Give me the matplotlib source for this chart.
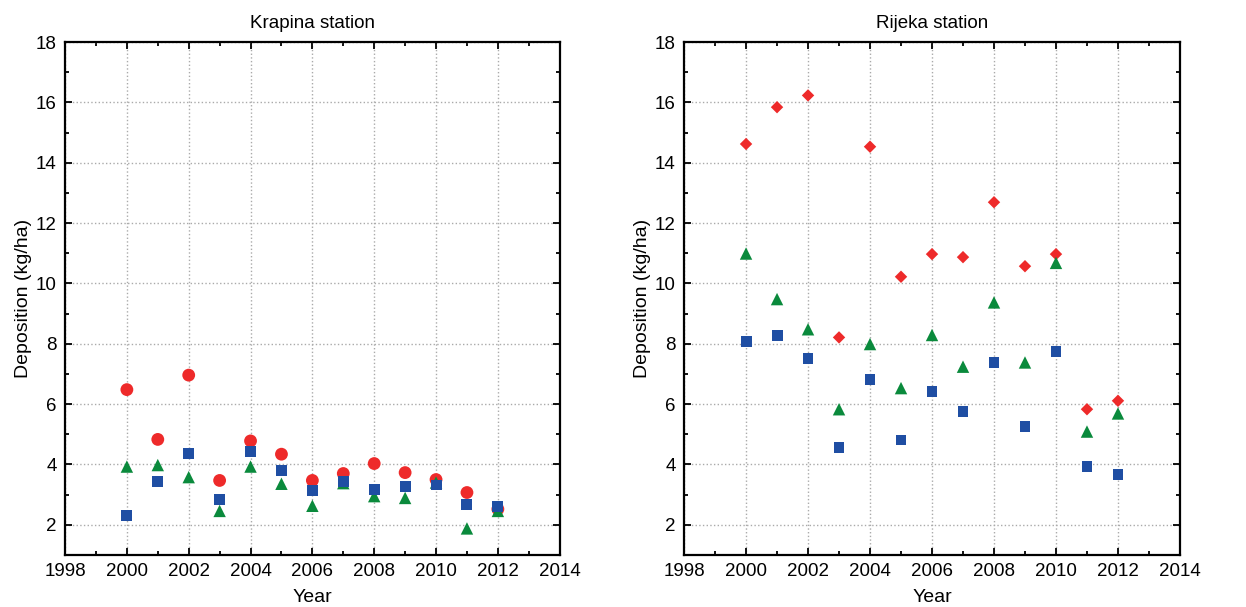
import matplotlib.pyplot as plt
from matplotlib.ticker import MultipleLocator

plt.rcParams['font.family'] = ['Liberation Sans', 'DejaVu Sans']

years = list(range(2000, 2013))

# Krapina station
krapina_red = [6.48, 4.83, 6.96, 3.47, 4.78, 4.34, 3.47, 3.70, 4.03, 3.73, 3.50, 3.07, 2.52]
krapina_blue = [2.31, 3.45, 4.35, 2.83, 4.44, 3.79, 3.14, 3.43, 3.18, 3.26, 3.32, 2.67, 2.60]
krapina_green = [3.93, 3.98, 3.58, 2.46, 3.93, 3.36, 2.63, 3.38, 2.95, 2.89, 3.40, 1.88, 2.46]

# Rijeka station
rijeka_red = [14.62, 15.84, 16.23, 8.21, 14.53, 10.22, 10.97, 10.87, 12.69, 10.57, 10.97, 5.83, 6.11]
rijeka_blue = [8.09, 8.27, 7.52, 4.55, 6.83, 4.81, 6.43, 5.77, 7.39, 5.25, 7.75, 3.93, 3.68]
rijeka_green = [10.99, 9.48, 8.48, 5.83, 7.99, 6.53, 8.29, 7.24, 9.37, 7.38, 10.68, 5.09, 5.69]

RED = '#ee2a2a'
BLUE = '#1f4ea3'
GREEN = '#0a8a3c'

fig = plt.figure(figsize=(12.46, 6.07), dpi=100)
ax1 = fig.add_axes([0.0522, 0.0857, 0.3970, 0.8451])
ax2 = fig.add_axes([0.5490, 0.0857, 0.3980, 0.8451])


def style(ax, title):
    ax.set_xlim(1998, 2014)
    ax.set_ylim(1, 18)
    ax.xaxis.set_major_locator(MultipleLocator(2))
    ax.xaxis.set_minor_locator(MultipleLocator(1))
    ax.yaxis.set_minor_locator(MultipleLocator(1))
    ax.set_yticks(range(2, 19, 2))
    ax.grid(True, which='major', linestyle=':', color='#aaaaaa', linewidth=1)
    ax.set_axisbelow(True)
    ax.tick_params(which='both', direction='in', top=True, right=True,
                   labelsize=13.5, width=1.3, color='black')
    ax.tick_params(which='major', length=5, pad=6)
    ax.tick_params(which='minor', length=3)
    for sp in ax.spines.values():
        sp.set_linewidth(1.6)
        sp.set_color('black')
    ax.set_title(title, fontsize=13.5, pad=10)
    ax.set_xlabel('Year', fontsize=14, labelpad=6)
    ax.set_ylabel('Deposition (kg/ha)', fontsize=14, labelpad=3)


ax1.scatter(years, krapina_red, marker='o', s=85, color=RED, edgecolors='none', zorder=3)
ax1.scatter(years, krapina_green, marker='^', s=80, color=GREEN, edgecolors='none', zorder=4)
ax1.scatter(years, krapina_blue, marker='s', s=62, color=BLUE, edgecolors='none', zorder=5)
style(ax1, 'Krapina station')

ax2.scatter(years, rijeka_red, marker='D', s=40, color=RED, edgecolors='none', zorder=3)
ax2.scatter(years, rijeka_green, marker='^', s=80, color=GREEN, edgecolors='none', zorder=4)
ax2.scatter(years, rijeka_blue, marker='s', s=62, color=BLUE, edgecolors='none', zorder=5)
style(ax2, 'Rijeka station')

fig.savefig('out.png', dpi=100)
